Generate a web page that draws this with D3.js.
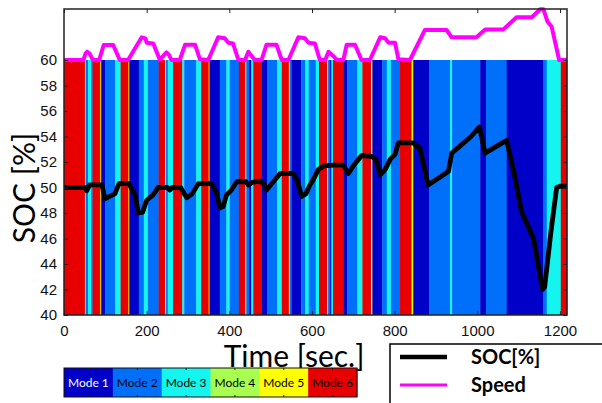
<!DOCTYPE html>
<html>
<head>
<meta charset="utf-8">
<script src="https://cdn.jsdelivr.net/npm/d3@7"></script>
<style>
  body { margin: 0; background: #fff; }
  svg { display: block; }
</style>
</head>
<body>
<div id="chart"></div>
<script>
// mode strips: start time of each segment and its mode (1..6), segment ends at next start
var modeStart = [0, 50.6, 52.5, 58, 66, 69, 88, 90, 100, 124, 137, 156, 158, 181, 193, 203, 229, 245, 247, 251,
  264, 286, 291, 320, 332, 350, 352, 377, 393, 401, 423, 439, 441, 448, 453, 458, 479, 492, 516, 527,
  544, 546, 551, 574, 584, 592, 609, 617, 637, 639, 644, 647, 651, 676, 685, 710, 722, 743, 746, 770,
  781, 791, 813, 841, 845, 883, 934, 939, 1007, 1021, 1071, 1160, 1168, 1202];
var modeId = [6, 5, 2, 3, 2, 6, 5, 1, 2, 3, 6, 5, 1, 2, 3, 2, 6, 5, 2, 3,
  6, 3, 2, 3, 6, 5, 1, 2, 3, 2, 6, 5, 2, 1, 3, 6, 1, 2, 3, 6,
  5, 2, 1, 2, 3, 2, 3, 6, 5, 2, 1, 3, 6, 1, 2, 3, 6, 5, 1, 2,
  3, 2, 6, 5, 1, 2, 3, 2, 1, 2, 1, 2, 3, 6];
var endTime = 1217;

var socTime = [0, 50, 55, 62, 92, 99, 110, 123, 133, 157, 172, 180, 190, 200, 215, 228, 250, 256, 262, 282,
  297, 310, 325, 357, 370, 377, 385, 393, 405, 418, 440, 446, 455, 475, 485, 490, 505, 523, 555, 565,
  575, 585, 595, 603, 615, 630, 652, 676, 688, 700, 720, 743, 755, 765, 777, 789, 801, 809, 844, 861,
  870, 881, 930, 938, 960, 985, 1005, 1019, 1050, 1071, 1090, 1107, 1136, 1158, 1163, 1178, 1192, 1200, 1217];
var socValue = [50.0, 50.0, 49.75, 50.2, 50.2, 49.1, 49.3, 49.5, 50.3, 50.3, 49.4, 48.0, 48.05, 49.0, 49.4, 50.0, 50.0, 49.8, 50.0, 50.0,
  49.2, 49.5, 50.3, 50.3, 49.5, 48.4, 48.5, 49.4, 49.8, 50.45, 50.45, 50.2, 50.4, 50.5, 50.2, 49.8, 50.4, 51.1, 51.1, 50.5,
  49.3, 49.5, 50.2, 50.6, 51.4, 51.7, 51.75, 51.75, 51.1, 51.7, 52.5, 52.45, 52.2, 51.0, 51.4, 52.2, 52.6, 53.5, 53.5, 53.1,
  51.8, 50.2, 51.25, 52.7, 53.3, 54.0, 54.75, 52.7, 53.3, 53.7, 51.0, 48.1, 46.0, 42.0, 42.2, 46.5, 50.0, 50.1, 50.1];

// speed trace, scaled 0..4 above the SOC=60 line
var speedTime = [0, 47, 52, 56, 62, 70, 85, 96, 119, 135, 155, 188, 197, 200, 216, 232, 242, 248, 254, 260,
  280, 293, 317, 329, 349, 373, 389, 397, 409, 422, 438, 446, 454, 462, 478, 490, 514, 527, 543, 567,
  583, 591, 607, 619, 632, 640, 652, 660, 676, 684, 704, 720, 740, 765, 777, 785, 801, 809, 837, 873,
  926, 938, 998, 1019, 1063, 1095, 1132, 1152, 1160, 1170, 1180, 1198, 1217];
var speedScaled = [0, 0, 0.5, 0.65, 0.5, 0, 0, 1.18, 1.18, 0, 0, 1.78, 1.7, 1.36, 1.3, 0, 0.4, 0.6, 0.4, 0,
  0, 1.2, 1.2, 0.05, 0, 1.78, 1.7, 1.36, 1.3, 0, 0, 0.65, 0.3, 0, 0, 1.2, 1.2, 0, 0, 1.78,
  1.7, 1.36, 1.3, 0, 0, 0.65, 0.3, 0, 0, 1.2, 1.2, 0, 0, 1.78, 1.7, 1.36, 1.36, 0.05, 0, 2.35,
  2.35, 1.78, 1.78, 2.4, 2.4, 3.35, 3.35, 3.98, 3.98, 3.0, 2.6, 0, 0];

var modeNames = ["Mode 1", "Mode 2", "Mode 3", "Mode 4", "Mode 5", "Mode 6"];
var modeColors = ["#0000c8", "#0070fa", "#14f5f0", "#a8ff50", "#ffff00", "#e80000"];
var xTicks = [0, 200, 400, 600, 800, 1000, 1200];
var yTicks = [40, 42, 44, 46, 48, 50, 52, 54, 56, 58, 60];

var W = 602, H = 403;
var pLeft = 64, pRight = 567, pTop = 9, pBottom = 315;

var svg = d3.select("#chart").append("svg")
  .attr("width", W)
  .attr("height", H);

var x = d3.scaleLinear().domain([0, endTime]).range([pLeft, pRight]);
var y = d3.scaleLinear().domain([40, 64]).range([pBottom, pTop]);
var ySpeed = d3.scaleLinear().domain([0, 4]).range([y(60), y(64)]);

// mode strips
var segs = modeStart.map(function (s, i) {
  return { s: s, e: i < modeStart.length - 1 ? modeStart[i + 1] : endTime, m: modeId[i] };
});
svg.append("g").selectAll("rect")
  .data(segs)
  .enter().append("rect")
    .attr("x", function (d) { return x(d.s); })
    .attr("width", function (d) { return Math.max(0.8, x(d.e) - x(d.s) + 0.3); })
    .attr("y", y(60))
    .attr("height", y(40) - y(60))
    .attr("fill", function (d) { return modeColors[d.m - 1]; });

// speed
var speedLine = d3.line()
  .x(function (d, i) { return x(speedTime[i]); })
  .y(function (d) { return ySpeed(d); });
svg.append("path")
  .attr("d", speedLine(speedScaled))
  .attr("fill", "none")
  .attr("stroke", "#ff00ff")
  .attr("stroke-width", 4)
  .attr("stroke-linejoin", "round");

// SOC
var socLine = d3.line()
  .x(function (d, i) { return x(socTime[i]); })
  .y(function (d) { return y(d); });
svg.append("path")
  .attr("d", socLine(socValue))
  .attr("fill", "none")
  .attr("stroke", "#000")
  .attr("stroke-width", 4.8)
  .attr("stroke-linejoin", "round");

// axes (ticks inward)
var tickFont = "'Liberation Sans', Arial, sans-serif";
var gx = svg.append("g").attr("transform", "translate(0," + pBottom + ")")
  .call(d3.axisBottom(x).tickValues(xTicks).tickFormat(d3.format("d")).tickSizeInner(-4).tickSizeOuter(0).tickPadding(10));
var gy = svg.append("g").attr("transform", "translate(" + pLeft + ",0)")
  .call(d3.axisLeft(y).tickValues(yTicks).tickSizeInner(-4).tickSizeOuter(0).tickPadding(7));
var gt = svg.append("g").attr("transform", "translate(0," + pTop + ")")
  .call(d3.axisTop(x).tickValues(xTicks).tickSizeInner(-4).tickSizeOuter(0).tickFormat(""));
var gr = svg.append("g").attr("transform", "translate(" + pRight + ",0)")
  .call(d3.axisRight(y).tickValues(yTicks).tickSizeInner(-4).tickSizeOuter(0).tickFormat(""));
[gx, gy, gt, gr].forEach(function (g) {
  g.select(".domain").remove();
  g.selectAll("line").attr("stroke", "#222");
  g.selectAll("text").style("font-family", tickFont).style("font-size", "15px").attr("fill", "#111");
});

svg.append("rect")
  .attr("x", pLeft).attr("y", pTop)
  .attr("width", pRight - pLeft).attr("height", pBottom - pTop)
  .attr("fill", "none").attr("stroke", "#222").attr("stroke-width", 1.5);

// axis titles
var titleFont = "Lato, 'Open Sans', sans-serif";
svg.append("text")
  .attr("x", 294).attr("y", 367)
  .attr("text-anchor", "middle")
  .style("font-family", titleFont).style("font-size", "30px")
  .text("Time [sec.]");
svg.append("text")
  .attr("transform", "translate(35,188) rotate(-90)")
  .attr("text-anchor", "middle")
  .style("font-family", titleFont).style("font-size", "30px")
  .text("SOC [%]");

// mode colour bar
var cb = d3.scaleBand().domain(modeNames).range([64, 357]);
var cbar = svg.append("g");
cbar.selectAll("rect")
  .data(modeNames)
  .enter().append("rect")
    .attr("x", function (d) { return cb(d); })
    .attr("y", 368)
    .attr("width", cb.bandwidth() + 0.5)
    .attr("height", 29)
    .attr("fill", function (d, i) { return modeColors[i]; });
cbar.selectAll("text")
  .data(modeNames)
  .enter().append("text")
    .attr("x", function (d) { return cb(d) + cb.bandwidth() / 2; })
    .attr("y", 387)
    .attr("text-anchor", "middle")
    .style("font-family", titleFont).style("font-size", "12px")
    .attr("fill", function (d, i) { return i === 0 ? "#fff" : "#000"; })
    .text(function (d) { return d; });
cbar.selectAll("line.t")
  .data(modeNames.concat(modeNames))
  .enter().append("line")
    .attr("x1", function (d) { return cb(d) + cb.bandwidth() / 2; })
    .attr("x2", function (d) { return cb(d) + cb.bandwidth() / 2; })
    .attr("y1", function (d, i) { return i < 6 ? 368 : 397; })
    .attr("y2", function (d, i) { return i < 6 ? 370 : 395; })
    .attr("stroke", "#222");
cbar.append("rect")
  .attr("x", 64).attr("y", 368).attr("width", 293).attr("height", 29)
  .attr("fill", "none").attr("stroke", "#111").attr("stroke-width", 1);

// legend
var lg = svg.append("g");
lg.append("rect")
  .attr("x", 390).attr("y", 344).attr("width", 230).attr("height", 80)
  .attr("fill", "#fff").attr("stroke", "#000").attr("stroke-width", 1.5);
var legendItems = [{ name: "SOC[%]", color: "#000", w: 4.5 }, { name: "Speed", color: "#ff00ff", w: 3 }];
lg.selectAll("line")
  .data(legendItems)
  .enter().append("line")
    .attr("x1", 400).attr("x2", 447)
    .attr("y1", function (d, i) { return 357 + i * 28; })
    .attr("y2", function (d, i) { return 357 + i * 28; })
    .attr("stroke", function (d) { return d.color; })
    .attr("stroke-width", function (d) { return d.w; });
lg.selectAll("text")
  .data(legendItems)
  .enter().append("text")
    .attr("x", 471)
    .attr("y", function (d, i) { return 364 + i * 28; })
    .style("font-family", titleFont).style("font-size", "20px").style("font-weight", "bold")
    .text(function (d) { return d.name; });
</script>
</body>
</html>
